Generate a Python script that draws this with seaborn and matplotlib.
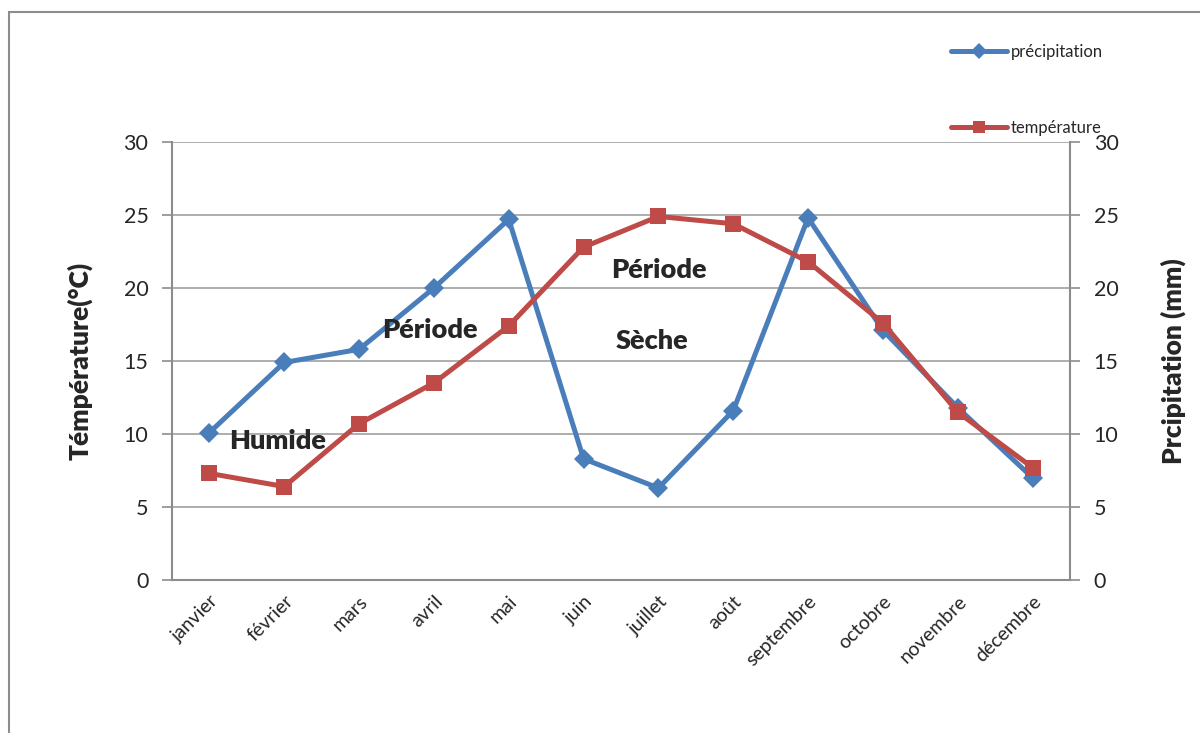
import numpy as np
import pandas as pd
import matplotlib
matplotlib.use("Agg")
import matplotlib.pyplot as plt
import seaborn as sns
from matplotlib.patches import Rectangle

# monthly values
months = ["janvier", "février", "mars", "avril", "mai", "juin",
          "juillet", "août", "septembre", "octobre", "novembre", "décembre"]
precipitation = [10.1, 14.9, 15.8, 20.0, 24.7, 8.3, 6.3, 11.6, 24.8, 17.1, 11.8, 7.0]
temperature = [7.3, 6.4, 10.7, 13.5, 17.4, 22.8, 24.9, 24.4, 21.8, 17.6, 11.5, 7.7]

df = pd.DataFrame({
    "mois": np.arange(len(months)),
    "precipitation": precipitation,
    "temperature": temperature,
})

sns.set_style("white")
plt.rcParams["font.family"] = ["Lato", "DejaVu Sans"]

blue = "#4A7EBB"
red = "#BE4B48"
grey = "#8C8C8C"

fig = plt.figure(figsize=(12, 7.33), dpi=100)
ax = fig.add_axes([172 / 1200, 1 - 580 / 733, (1070 - 172) / 1200, (580 - 142) / 733])
ax2 = ax.twinx()

# outer frame of the chart area (runs off the right and bottom edges)
fig.patches.append(Rectangle((9 / 1200, -0.05), 1.1, 1 - 12 / 733 + 0.05,
                             transform=fig.transFigure, fill=False,
                             edgecolor=grey, linewidth=1.5, zorder=0))

sns.lineplot(data=df, x="mois", y="precipitation", ax=ax, color=blue,
             linewidth=3.6, marker="D", markersize=10.5, markeredgewidth=0,
             label="précipitation", legend=False)
sns.lineplot(data=df, x="mois", y="temperature", ax=ax2, color=red,
             linewidth=3.6, marker="s", markersize=11.5, markeredgewidth=0,
             label="température", legend=False)

for a in (ax, ax2):
    a.set_ylim(0, 30)
    a.set_yticks(np.arange(0, 31, 5))
    a.set_xlim(-0.5, len(months) - 0.5)
    a.tick_params(axis="y", labelsize=15.5, length=7, width=1.2, color=grey, pad=10)
    for s in a.spines.values():
        s.set_visible(False)

ax.spines["left"].set_visible(True)
ax.spines["bottom"].set_visible(True)
ax2.spines["right"].set_visible(True)
for s in (ax.spines["left"], ax.spines["bottom"], ax2.spines["right"]):
    s.set_color(grey)
    s.set_linewidth(1.5)

ax.yaxis.grid(True, color="#A0A0A0", linewidth=1.2)
ax.set_axisbelow(True)

# x axis: ticks on category boundaries, labels at centres
ax.set_xticks(np.arange(-0.5, len(months), 1.0))
ax.set_xticklabels([])
ax.tick_params(axis="x", length=6, width=1.2, color=grey, direction="out")
ax.set_xticks(np.arange(len(months)), minor=True)
ax.set_xticklabels(months, minor=True, rotation=45, ha="right",
                   rotation_mode="anchor", fontsize=14)
ax.tick_params(axis="x", which="minor", length=0, pad=9)

ax.set_xlabel("")
ax.set_ylabel("Témpérature(°C)", fontsize=19, fontweight="heavy", labelpad=22)
ax2.set_ylabel("Prcipitation (mm)", fontsize=19, fontweight="heavy", labelpad=30)

# period annotations
for txt, x, y in [("Période", 2.95, 17.1), ("Humide", 0.91, 9.5),
                  ("Période", 6.0, 21.2), ("Sèche", 5.92, 16.4)]:
    ax.text(x, y, txt, fontsize=19.5, fontweight="heavy", ha="center",
            va="center", zorder=5)

handles = ax.get_lines()[:1] + ax2.get_lines()[:1]
fig.legend(handles=handles, labels=["précipitation", "température"],
           loc="upper left", bbox_to_anchor=(944 / 1200, 1 - 37 / 733),
           frameon=False, fontsize=12, handlelength=3.4, handletextpad=0.2,
           labelspacing=3.62, borderaxespad=0, markerscale=0.75)

fig.savefig("out.png", dpi=100)
